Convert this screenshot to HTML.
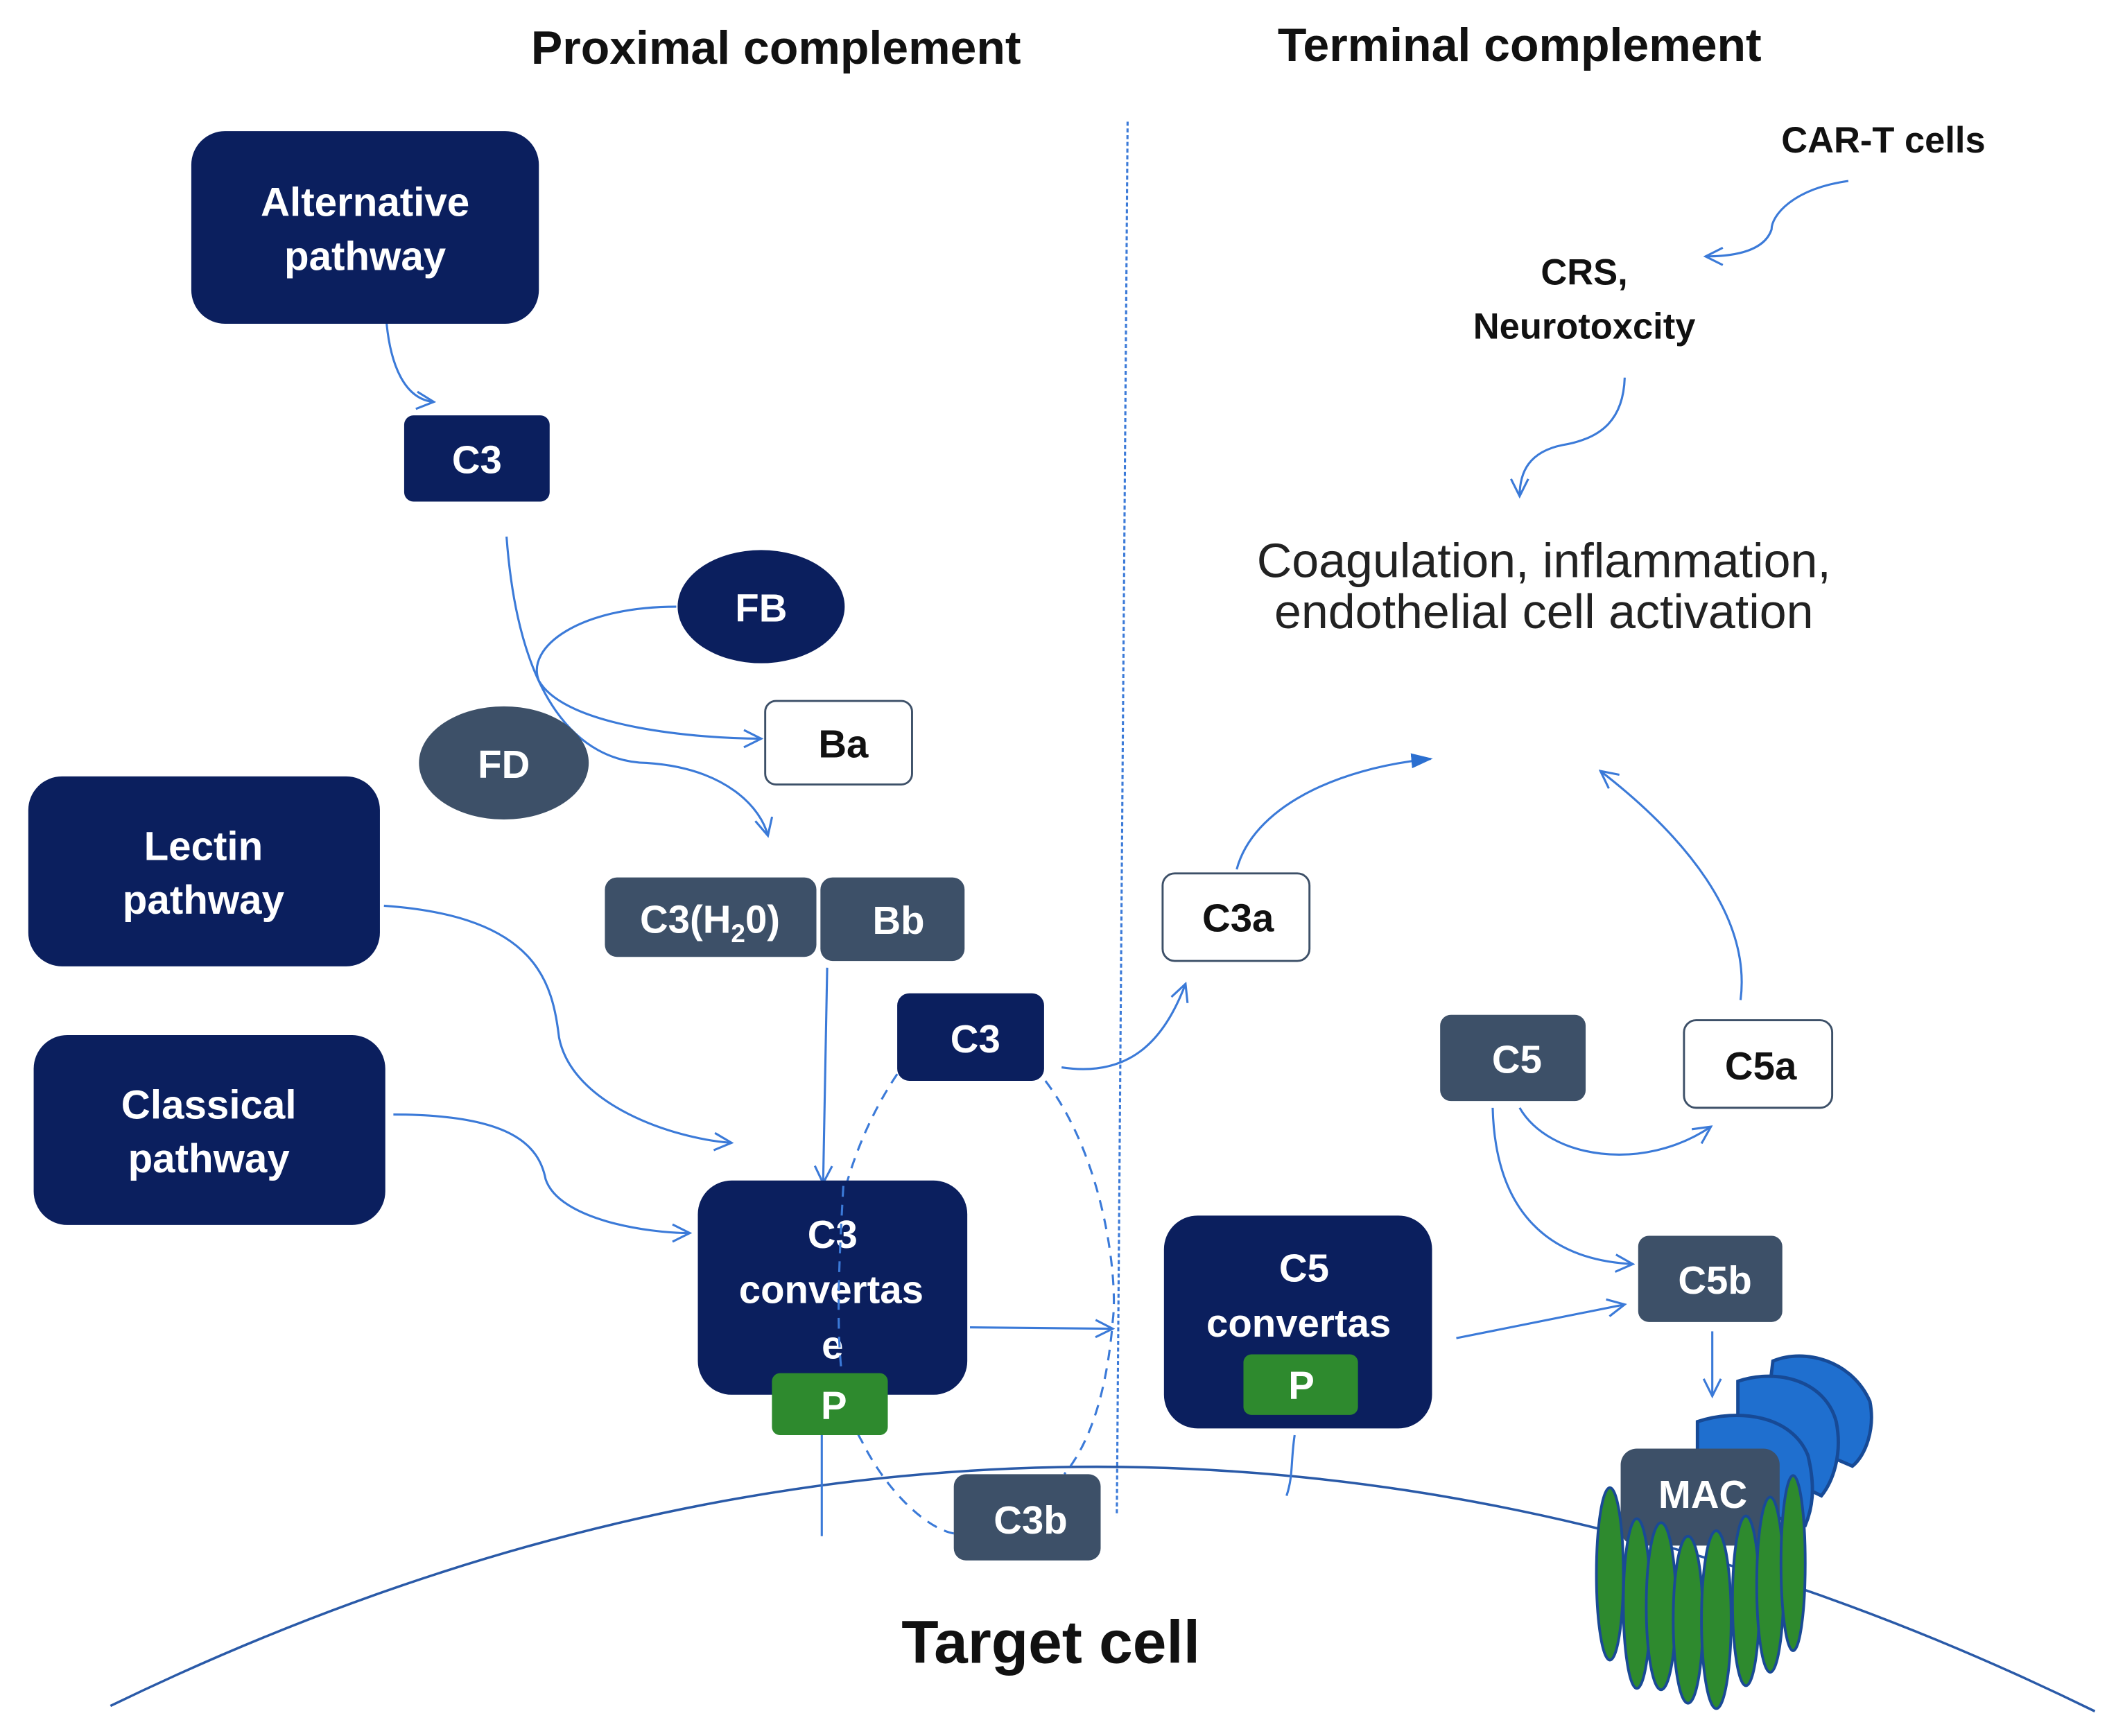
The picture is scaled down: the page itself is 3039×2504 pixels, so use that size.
<!DOCTYPE html>
<html><head><meta charset="utf-8"><style>
html,body{margin:0;padding:0;background:#fff;}
svg{display:block;}
.w{font-family:"Liberation Sans",sans-serif;font-weight:bold;fill:#fff;text-anchor:middle;}
.k{font-family:"Liberation Sans",sans-serif;font-weight:bold;fill:#111;text-anchor:middle;}
.ln{fill:none;stroke:#3b7ad8;stroke-width:1.6;}
</style></head><body>
<svg width="3039" height="2504" viewBox="0 0 1564 1288" xmlns="http://www.w3.org/2000/svg">
<defs>
<marker id="a" viewBox="0 0 20 20" refX="18" refY="10" markerWidth="16" markerHeight="16" markerUnits="userSpaceOnUse" orient="auto">
<polyline points="2,2 18,10 2,18" fill="none" stroke="#3b7ad8" stroke-width="2"/></marker>
<marker id="f" viewBox="0 0 20 20" refX="18" refY="10" markerWidth="16" markerHeight="16" markerUnits="userSpaceOnUse" orient="auto">
<polygon points="0,3 20,10 0,17" fill="#2b6fd0"/></marker>
</defs>
<g>
<text x="576" y="47" class="k" font-size="35">Proximal complement</text>
<text x="1128" y="45" class="k" font-size="35">Terminal complement</text>

<line x1="837" y1="90" x2="829" y2="1125" stroke="#3b7ad8" stroke-width="1.6" stroke-dasharray="3,2"/>

<path d="M82,1266 Q818,909 1555,1270" fill="none" stroke="#2a5aa8" stroke-width="1.8"/>
<text x="780" y="1234" class="k" font-size="45">Target cell</text>

<path class="ln" d="M287,240 C290,270 300,296 322,298" marker-end="url(#a)"/>
<path class="ln" d="M376,398 C385,520 430,565 480,566 C540,570 565,600 570,620" marker-end="url(#a)"/>
<path class="ln" d="M502,450 C430,450 390,480 400,505 C420,540 520,548 565,548" marker-end="url(#a)"/>
<path class="ln" d="M614,718 L611,878" marker-end="url(#a)"/>
<path class="ln" d="M285,672 C400,680 410,730 415,770 C425,820 500,845 543,848" marker-end="url(#a)"/>
<path class="ln" d="M292,827 C380,827 400,850 405,875 C415,905 480,915 512,915" marker-end="url(#a)"/>
<path class="ln" d="M720,985 L826,986" marker-end="url(#a)"/>
<path class="ln" d="M788,792 C840,800 865,770 880,730" marker-end="url(#a)"/>
<path class="ln" d="M918,645 C930,600 990,570 1062,563" marker-end="url(#f)"/>
<path class="ln" d="M1292,742 C1300,680 1250,620 1188,572" marker-end="url(#a)"/>
<path class="ln" d="M1128,822 C1150,860 1220,870 1270,836" marker-end="url(#a)"/>
<path class="ln" d="M1108,822 C1110,900 1150,935 1212,938" marker-end="url(#a)"/>
<path class="ln" d="M1081,993 L1206,968" marker-end="url(#a)"/>
<path class="ln" d="M1271,988 L1271,1036" marker-end="url(#a)"/>
<path class="ln" d="M1372,134 C1330,140 1315,160 1315,170 C1310,185 1290,190 1266,190" marker-end="url(#a)"/>
<path class="ln" d="M1206,280 C1205,310 1190,325 1160,330 C1135,335 1128,350 1128,368" marker-end="url(#a)"/>
<path class="ln" d="M610,1065 L610,1140"/>
<path class="ln" d="M961,1065 C958,1085 960,1095 955,1110"/>

<rect x="142" y="97" width="258" height="143" rx="25" fill="#0b1f5e"/>
<text x="271" y="160" class="w" font-size="30">Alternative</text>
<text x="271" y="200" class="w" font-size="30">pathway</text>

<rect x="300" y="308" width="108" height="64" rx="7" fill="#0b1f5e"/>
<text x="354" y="351" class="w" font-size="29">C3</text>

<ellipse cx="565" cy="450" rx="62" ry="42" fill="#0b1f5e"/>
<text x="565" y="461" class="w" font-size="29">FB</text>
<ellipse cx="374" cy="566" rx="63" ry="42" fill="#3d5068"/>
<text x="374" y="577" class="w" font-size="29">FD</text>

<rect x="568" y="520" width="109" height="62" rx="8" fill="#fff" stroke="#3d5068" stroke-width="1.5"/>
<text x="626" y="562" class="k" font-size="29">Ba</text>

<rect x="21" y="576" width="261" height="141" rx="25" fill="#0b1f5e"/>
<text x="151" y="638" class="w" font-size="30">Lectin</text>
<text x="151" y="678" class="w" font-size="30">pathway</text>

<rect x="25" y="768" width="261" height="141" rx="25" fill="#0b1f5e"/>
<text x="155" y="830" class="w" font-size="30">Classical</text>
<text x="155" y="870" class="w" font-size="30">pathway</text>

<rect x="449" y="651" width="157" height="59" rx="9" fill="#3d5068"/>
<text x="527" y="692" class="w" font-size="29">C3(H<tspan font-size="19" dy="7">2</tspan><tspan dy="-7">0)</tspan></text>
<rect x="609" y="651" width="107" height="62" rx="9" fill="#3d5068"/>
<text x="667" y="693" class="w" font-size="29">Bb</text>

<path d="M666,797 C610,880 600,1000 640,1070 C660,1110 690,1135 708,1138" fill="none" stroke="#3b7ad8" stroke-width="1.6" stroke-dasharray="8,6"/>

<rect x="666" y="737" width="109" height="65" rx="9" fill="#0b1f5e"/>
<text x="724" y="781" class="w" font-size="29">C3</text>

<rect x="518" y="876" width="200" height="159" rx="25" fill="#0b1f5e"/>
<text x="618" y="926" class="w" font-size="29">C3</text>
<text x="617" y="967" class="w" font-size="29">convertas</text>
<text x="618" y="1008" class="w" font-size="29">e</text>
<path d="M626,880 C622,950 620,1000 628,1040" fill="none" stroke="#3b7ad8" stroke-width="1.6" stroke-dasharray="8,6"/>
<rect x="573" y="1019" width="86" height="46" rx="6" fill="#2e8a2e"/>
<text x="619" y="1053" class="w" font-size="29">P</text>

<path d="M776,802 C820,860 830,950 826,980 C822,1030 810,1070 790,1094" fill="none" stroke="#3b7ad8" stroke-width="1.6" stroke-dasharray="8,6"/>
<rect x="708" y="1094" width="109" height="64" rx="9" fill="#3d5068"/>
<text x="765" y="1138" class="w" font-size="29">C3b</text>

<rect x="863" y="648" width="109" height="65" rx="9" fill="#fff" stroke="#3d5068" stroke-width="1.5"/>
<text x="919" y="691" class="k" font-size="29">C3a</text>

<rect x="1069" y="753" width="108" height="64" rx="8" fill="#3d5068"/>
<text x="1126" y="796" class="w" font-size="29">C5</text>
<rect x="1250" y="757" width="110" height="65" rx="9" fill="#fff" stroke="#3d5068" stroke-width="1.5"/>
<text x="1307" y="801" class="k" font-size="29">C5a</text>

<rect x="864" y="902" width="199" height="158" rx="25" fill="#0b1f5e"/>
<text x="968" y="951" class="w" font-size="29">C5</text>
<text x="964" y="992" class="w" font-size="29">convertas</text>
<rect x="923" y="1005" width="85" height="45" rx="6" fill="#2e8a2e"/>
<text x="966" y="1038" class="w" font-size="29">P</text>

<rect x="1216" y="917" width="107" height="64" rx="8" fill="#3d5068"/>
<text x="1273" y="960" class="w" font-size="29">C5b</text>

<g fill="#1f6fcf" stroke="#174a96" stroke-width="2.5">
<path d="M1316,1010 C1340,1000 1375,1010 1388,1040 C1392,1060 1385,1080 1375,1088 L1310,1060 Z"/>
<path d="M1290,1025 C1320,1015 1355,1025 1363,1055 C1368,1080 1360,1100 1352,1110 L1290,1080 Z"/>
<path d="M1260,1055 C1290,1045 1330,1050 1342,1080 C1348,1105 1345,1120 1340,1132 L1260,1110 Z"/>
</g>
<rect x="1203" y="1075" width="118" height="72" rx="12" fill="#3d5068"/>
<text x="1264" y="1119" class="w" font-size="29">MAC</text>
<g fill="#2e8a2e" stroke="#1a4a96" stroke-width="2">
<ellipse cx="1195" cy="1168" rx="10" ry="64"/>
<ellipse cx="1215" cy="1190" rx="10" ry="63"/>
<ellipse cx="1233" cy="1192" rx="11" ry="62"/>
<ellipse cx="1253" cy="1202" rx="11" ry="62"/>
<ellipse cx="1274" cy="1202" rx="11" ry="66"/>
<ellipse cx="1296" cy="1188" rx="10" ry="63"/>
<ellipse cx="1314" cy="1176" rx="10" ry="65"/>
<ellipse cx="1331" cy="1160" rx="9" ry="65"/>
</g>

<text x="1398" y="113" class="k" font-size="27">CAR-T cells</text>
<text x="1176" y="211" class="k" font-size="27">CRS,</text>
<text x="1176" y="251" class="k" font-size="27">Neurotoxcity</text>
<text x="1146" y="428" font-family="Liberation Sans,sans-serif" font-size="36" fill="#222" text-anchor="middle">Coagulation, inflammation,</text>
<text x="1146" y="466" font-family="Liberation Sans,sans-serif" font-size="36" fill="#222" text-anchor="middle">endothelial cell activation</text>
</g>
</svg>
</body></html>
